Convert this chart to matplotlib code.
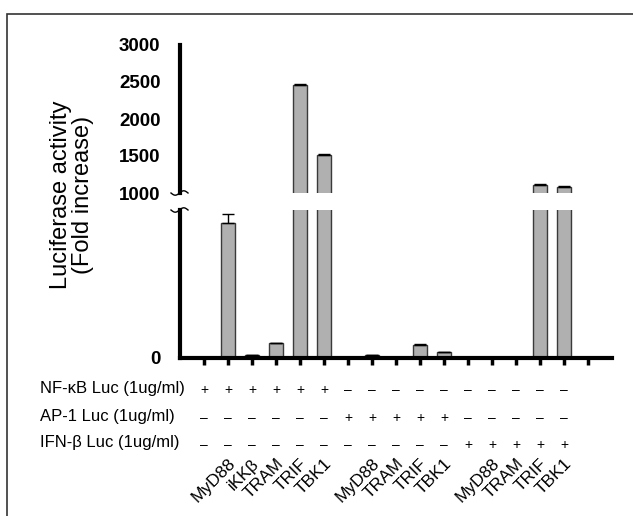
import numpy as np
import matplotlib
matplotlib.use("Agg")
import matplotlib.pyplot as plt
from matplotlib.patches import Rectangle
from matplotlib.lines import Line2D

plt.rcParams['font.family'] = ['Liberation Sans', 'DejaVu Sans']

# 16 transfection columns: NF-kB (6), AP-1 (5), IFN-beta (5)
values = [0, 910, 20, 100, 2455, 1520,
          0, 20, 0, 88, 38,
          0, 0, 0, 1108, 1085]
errors = [0, 63, 3, 4, 12, 12,
          0, 3, 0, 4, 5,
          0, 0, 0, 14, 10]
nfkb_row = ['+'] * 6 + ['-'] * 10
ap1_row = ['-'] * 6 + ['+'] * 5 + ['-'] * 5
ifn_row = ['-'] * 11 + ['+'] * 5
row_names = ['NF-\u03baB Luc (1ug/ml)', 'AP-1 Luc (1ug/ml)', 'IFN-\u03b2 Luc (1ug/ml)']
gene_labels = {1: 'MyD88', 2: 'iKK\u03b2', 3: 'TRAM', 4: 'TRIF', 5: 'TBK1',
               7: 'MyD88', 8: 'TRAM', 9: 'TRIF', 10: 'TBK1',
               12: 'MyD88', 13: 'TRAM', 14: 'TRIF', 15: 'TBK1'}

W, H = 633, 516
fig = plt.figure(figsize=(W / 100, H / 100), dpi=100)

def fx(px):
    return px / W

def fy(py):
    return 1 - py / H

x = np.arange(len(values))
left, right = 180, 612
ax_lo = fig.add_axes([fx(left), fy(358), fx(right - left), (358 - 210) / H])
ax_hi = fig.add_axes([fx(left), fy(193), fx(right - left), (193 - 45) / H])

for ax in (ax_lo, ax_hi):
    ax.bar(x, values, width=0.62, color='#b0b0b0', edgecolor='#3a3a3a', linewidth=1.0,
           zorder=2)
    ax.errorbar(x, values, yerr=[np.zeros(len(errors)), errors], fmt='none',
                ecolor='black', elinewidth=1.0, capsize=4, capthick=1.0, zorder=3)
    ax.set_xlim(-1, 17)
    for s in ('top', 'right'):
        ax.spines[s].set_visible(False)
    ax.spines['left'].set_linewidth(3)
    ax.patch.set_alpha(0)

ax_lo.set_ylim(0, 1000)
ax_lo.set_yticks([0])
ax_lo.spines['bottom'].set_linewidth(3)
ax_lo.set_xticks(np.arange(0, 17))
ax_lo.set_xticklabels([])
ax_lo.tick_params(axis='x', length=5, width=2.5, direction='out')

ax_hi.set_ylim(1000, 3000)
ax_hi.set_yticks([1000, 1500, 2000, 2500, 3000])
ax_hi.spines['bottom'].set_visible(False)
ax_hi.set_xticks([])

for ax in (ax_lo, ax_hi):
    ax.tick_params(axis='y', length=0, pad=14)
    for lab in ax.get_yticklabels():
        lab.set_fontweight('bold')
        lab.set_fontsize(13.5)

# break marks
t = np.linspace(0, 1, 30)
for yb in (193, 210):
    xs = fx(171 + 17 * t)
    ys = fy(yb + 2.2 * np.sin(2 * np.pi * t))
    fig.add_artist(Line2D(xs, ys, color='black', lw=1.0))

fig.text(fx(72), fy(195), 'Luciferase activity\n(Fold increase)', rotation=90,
         ha='center', va='center', multialignment='center', fontsize=17,
         linespacing=1.05)

# transfection table
row_y = [390, 418, 445]
for name, row, yy in zip(row_names, (nfkb_row, ap1_row, ifn_row), row_y):
    fig.text(fx(40), fy(yy - 2), name, ha='left', va='center', fontsize=12)
    for i, sign in enumerate(row):
        xp = left + (i + 1) * (right - left) / 18
        fig.text(fx(xp), fy(yy), sign if sign == '+' else '\u2013',
                 ha='center', va='center', fontsize=10)

for i, g in gene_labels.items():
    xp = left + (i + 1) * (right - left) / 18 + 10
    fig.text(fx(xp), fy(456), g, rotation=45, ha='right', va='top', fontsize=12.5)

# outer frame
fig.add_artist(Rectangle((fx(6.5), -0.1), 1.2, fy(14) + 0.1, fill=False,
                         edgecolor='#333333', linewidth=1.2,
                         transform=fig.transFigure))

fig.savefig('out.png', dpi=100)
